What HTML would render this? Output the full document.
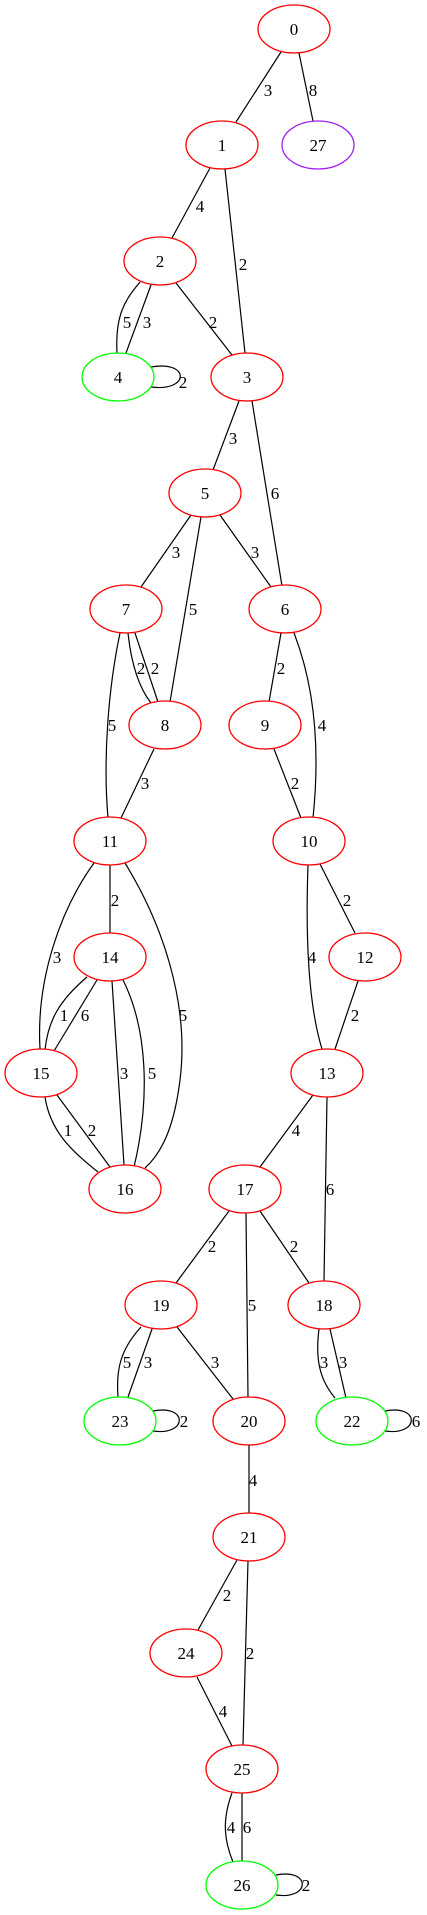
<!DOCTYPE html>
<html><head><meta charset="utf-8"><style>html,body{margin:0;padding:0;background:#fff}svg{display:block}</style></head>
<body>
<svg width="427" height="1915" viewBox="0 0 427 1915" xmlns="http://www.w3.org/2000/svg">
<g fill="none" stroke="#000" stroke-width="1.2">
<path d="M281,52L236,122"/><path d="M299,53L313,121"/>
<path d="M210,168L172,238"/><path d="M225,169L245,353"/>
<path d="M176,283L232,355"/>
<path d="M140,282C125,300 115,315 117,353"/><path d="M151,285L126,353"/>
<path d="M151,367C190,360 190,392 151,387"/>
<path d="M239,401L213,470"/><path d="M252,401L282,586"/>
<path d="M191,515L141,587"/><path d="M201,517L170,702"/><path d="M220,515L271,587"/>
<path d="M128,633Q133,680 151,703"/><path d="M135,633L158,702"/>
<path d="M120,633C108,690 103,760 108,818"/>
<path d="M154,749L121,818"/>
<path d="M281,633L269,702"/>
<path d="M294,633C320,700 318,770 313,818"/>
<path d="M274,749L301,818"/>
<path d="M110,865L110,933"/>
<path d="M94,863C60,910 36,980 40,1049"/>
<path d="M125,863C160,920 190,1000 180,1080C175,1120 165,1150 145,1168"/>
<path d="M308,865C305,950 310,1010 322,1049"/>
<path d="M320,864L355,933"/><path d="M358,981L335,1049"/>
<path d="M87,977C60,1000 48,1020 45,1050"/><path d="M97,980L54,1051"/>
<path d="M112,981L124,1165"/>
<path d="M123,980C148,1030 150,1100 134,1167"/>
<path d="M45,1097C50,1130 70,1150 98,1172"/><path d="M57,1095L110,1167"/>
<path d="M313,1095L260,1167"/><path d="M327,1097L324,1281"/>
<path d="M229,1211L176,1283"/><path d="M246,1213L248,1397"/><path d="M260,1211L309,1283"/>
<path d="M141,1327C120,1350 116,1370 118,1397"/><path d="M152,1329L128,1397"/>
<path d="M177,1327L233,1399"/>
<path d="M319,1329C315,1360 320,1380 335,1398"/><path d="M330,1329L346,1398"/>
<path d="M153,1411C188,1404 188,1436 153,1431"/>
<path d="M385,1411C420,1404 420,1436 385,1431"/>
<path d="M249,1445L249,1513"/>
<path d="M237,1560L198,1630"/><path d="M248,1561L243,1745"/>
<path d="M197,1677L232,1746"/>
<path d="M232,1793C222,1820 224,1840 233,1862"/><path d="M242,1793L242,1861"/>
<path d="M276,1875C311,1868 311,1900 276,1895"/>
</g>
<g fill="#fff" stroke-width="1.3">
<ellipse cx="294" cy="29" rx="36" ry="24" stroke="#f00"/>
<ellipse cx="222" cy="145" rx="36" ry="24" stroke="#f00"/>
<ellipse cx="318" cy="145" rx="36" ry="24" stroke="#a020f0"/>
<ellipse cx="160" cy="261" rx="36" ry="24" stroke="#f00"/>
<ellipse cx="118" cy="377" rx="36" ry="24" stroke="#0f0"/>
<ellipse cx="247" cy="377" rx="36" ry="24" stroke="#f00"/>
<ellipse cx="205" cy="493" rx="36" ry="24" stroke="#f00"/>
<ellipse cx="126" cy="609" rx="36" ry="24" stroke="#f00"/>
<ellipse cx="285" cy="609" rx="36" ry="24" stroke="#f00"/>
<ellipse cx="165" cy="725" rx="36" ry="24" stroke="#f00"/>
<ellipse cx="265" cy="725" rx="36" ry="24" stroke="#f00"/>
<ellipse cx="110" cy="841" rx="36" ry="24" stroke="#f00"/>
<ellipse cx="309" cy="841" rx="36" ry="24" stroke="#f00"/>
<ellipse cx="110" cy="957" rx="36" ry="24" stroke="#f00"/>
<ellipse cx="365" cy="957" rx="36" ry="24" stroke="#f00"/>
<ellipse cx="41" cy="1073" rx="36" ry="24" stroke="#f00"/>
<ellipse cx="327" cy="1073" rx="36" ry="24" stroke="#f00"/>
<ellipse cx="125" cy="1189" rx="36" ry="24" stroke="#f00"/>
<ellipse cx="245" cy="1189" rx="36" ry="24" stroke="#f00"/>
<ellipse cx="161" cy="1305" rx="36" ry="24" stroke="#f00"/>
<ellipse cx="324" cy="1305" rx="36" ry="24" stroke="#f00"/>
<ellipse cx="120" cy="1421" rx="36" ry="24" stroke="#0f0"/>
<ellipse cx="249" cy="1421" rx="36" ry="24" stroke="#f00"/>
<ellipse cx="352" cy="1421" rx="36" ry="24" stroke="#0f0"/>
<ellipse cx="249" cy="1537" rx="36" ry="24" stroke="#f00"/>
<ellipse cx="186" cy="1653" rx="36" ry="24" stroke="#f00"/>
<ellipse cx="242" cy="1769" rx="36" ry="24" stroke="#f00"/>
<ellipse cx="242" cy="1885" rx="36" ry="24" stroke="#0f0"/>
</g>
<g font-family="Liberation Serif, serif" font-size="17" text-anchor="middle" fill="#000">
<text x="294" y="35">0</text><text x="222" y="151">1</text><text x="318" y="151">27</text>
<text x="160" y="267">2</text><text x="118" y="383">4</text><text x="247" y="383">3</text>
<text x="205" y="499">5</text><text x="126" y="615">7</text><text x="285" y="615">6</text>
<text x="165" y="731">8</text><text x="265" y="731">9</text>
<text x="110" y="847">11</text><text x="309" y="847">10</text>
<text x="110" y="963">14</text><text x="365" y="963">12</text>
<text x="41" y="1079">15</text><text x="327" y="1079">13</text>
<text x="125" y="1195">16</text><text x="245" y="1195">17</text>
<text x="161" y="1311">19</text><text x="324" y="1311">18</text>
<text x="120" y="1427">23</text><text x="249" y="1427">20</text><text x="352" y="1427">22</text>
<text x="249" y="1543">21</text><text x="186" y="1659">24</text><text x="242" y="1775">25</text><text x="242" y="1891">26</text>
</g>
<g font-family="Liberation Serif, serif" font-size="17" text-anchor="middle" fill="#000">
<text x="268" y="96">3</text><text x="313" y="96">8</text>
<text x="200" y="212">4</text><text x="243" y="270">2</text><text x="213" y="328">2</text>
<text x="127" y="328">5</text><text x="147" y="328">3</text><text x="183" y="388">2</text>
<text x="233" y="444">3</text><text x="275" y="499">6</text>
<text x="176" y="558">3</text><text x="193" y="615">5</text><text x="255" y="558">3</text>
<text x="141" y="674">2</text><text x="155" y="674">2</text>
<text x="112" y="731">5</text><text x="145" y="789">3</text>
<text x="281" y="674">2</text><text x="322" y="731">4</text><text x="295" y="789">2</text>
<text x="115" y="906">2</text><text x="57" y="963">3</text><text x="183" y="1021">5</text>
<text x="312" y="963">4</text><text x="347" y="906">2</text><text x="355" y="1021">2</text>
<text x="64" y="1021">1</text><text x="85" y="1021">6</text>
<text x="124" y="1079">3</text><text x="152" y="1079">5</text>
<text x="68" y="1136">1</text><text x="92" y="1136">2</text>
<text x="296" y="1136">4</text><text x="330" y="1195">6</text>
<text x="212" y="1252">2</text><text x="252" y="1311">5</text><text x="294" y="1252">2</text>
<text x="127" y="1368">5</text><text x="148" y="1368">3</text><text x="215" y="1368">3</text>
<text x="324" y="1368">3</text><text x="343" y="1368">3</text>
<text x="184" y="1427">2</text><text x="416" y="1427">6</text>
<text x="253" y="1486">4</text><text x="227" y="1601">2</text><text x="250" y="1659">2</text>
<text x="223" y="1717">4</text><text x="231" y="1833">4</text><text x="247" y="1833">6</text>
<text x="306" y="1891">2</text>
</g>
</svg>
</body></html>
